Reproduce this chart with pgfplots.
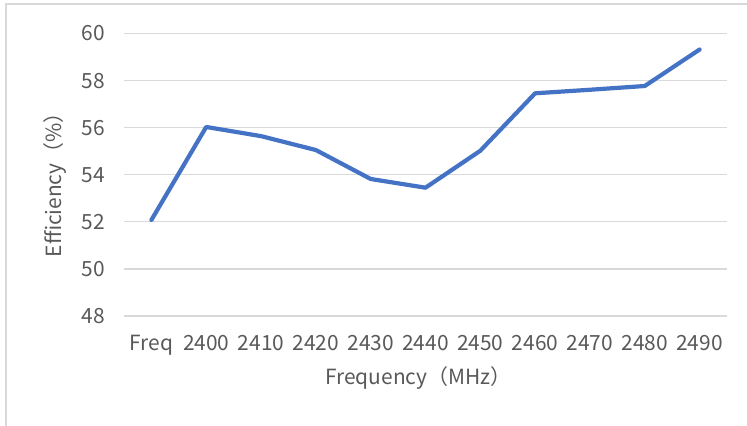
\documentclass[border=0pt]{standalone}
\usepackage{fontspec}
\setmainfont{Noto Sans CJK SC}
\usepackage{pgfplots}
\pgfplotsset{compat=1.18}
\definecolor{lineblue}{HTML}{4472C4}
\definecolor{gridgray}{HTML}{D9D9D9}
\definecolor{textgray}{HTML}{595959}
\definecolor{framegray}{HTML}{D9D9D9}
\begin{document}
\begin{tikzpicture}
\useasboundingbox (0,0) rectangle (747bp,426bp);
\fill[white] (0,0) rectangle (747bp,426bp);
\draw[framegray, line width=1.5bp] (6bp,-10bp) rectangle (760bp,422bp);
\begin{axis}[
  at={(124bp,110bp)}, anchor=south west,
  scale only axis, width=603bp, height=282.5bp,
  xmin=-0.5, xmax=10.5, ymin=48, ymax=60,
  xtick={0,1,2,3,4,5,6,7,8,9,10},
  xticklabels={Freq,2400,2410,2420,2430,2440,2450,2460,2470,2480,2490},
  ytick={48,50,52,54,56,58,60},
  axis line style={draw=none},
  major tick style={draw=none},
  ymajorgrids,
  grid style={gridgray, line width=1.3bp},
  /pgf/number format/assume math mode=true,
  tick label style={font=\fontsize{21}{25}\selectfont, text=textgray},
  yticklabel style={anchor=east, inner sep=0pt, xshift=-19bp},
  xticklabel style={anchor=base, inner sep=0pt, yshift=-35bp},
  ylabel={Efficiency（\%）},
  xlabel={Frequency（MHz）},
  every axis y label/.style={at={(axis description cs:0,0.5)}, xshift=-69bp, yshift=-5bp, rotate=90, anchor=center, font=\fontsize{21}{25}\selectfont, text=textgray},
  every axis x label/.style={at={(axis description cs:0.5,0)}, xshift=-7bp, yshift=-62bp, anchor=center, font=\fontsize{21}{25}\selectfont, text=textgray},
  clip=false,
]
\addplot[lineblue, line width=4.2bp, line join=round, line cap=round] coordinates {
 (0,52.08) (1,56.03) (2,55.64) (3,55.05) (4,53.82) (5,53.45) (6,55.02) (7,57.46) (8,57.61) (9,57.77) (10,59.32)
};
\end{axis}
\end{tikzpicture}
\end{document}
